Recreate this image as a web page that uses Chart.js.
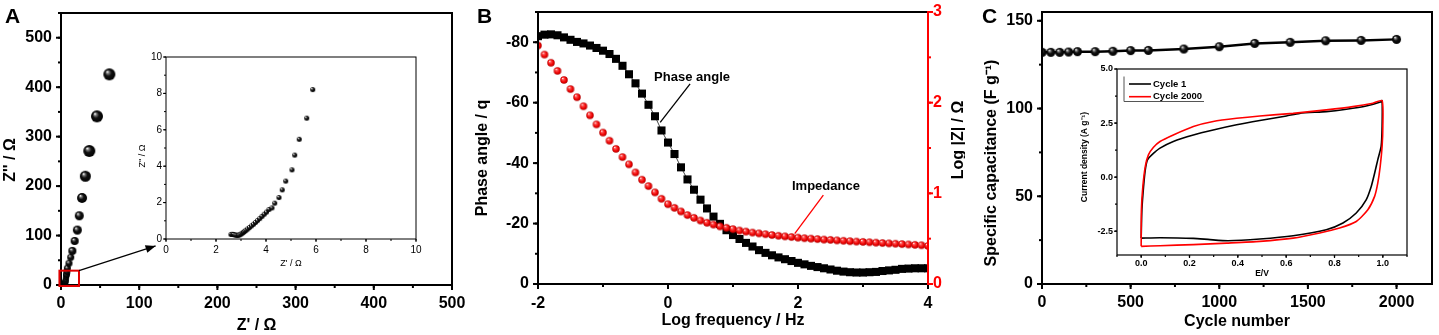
<!DOCTYPE html>
<html>
<head>
<meta charset="utf-8">
<script src="https://cdn.jsdelivr.net/npm/chart.js@4.4.1/dist/chart.umd.min.js"></script>
<style>
body { margin: 0; background: #fff; }
#fig { position: relative; width: 1439px; height: 335px; overflow: hidden; background: #fff;
       font-family: 'Liberation Sans', Arial, sans-serif; }
#fig canvas { position: absolute; }
.tag { position: absolute; font-weight: bold; font-size: 21px; line-height: 21px; }
</style>
</head>
<body>
<div id="fig">
  <canvas id="chartA" width="485" height="335" style="left:0;top:0"></canvas>
  <canvas id="chartAin" width="308" height="233" style="left:132px;top:47px"></canvas>
  <canvas id="chartB" width="500" height="335" style="left:465px;top:0"></canvas>
  <canvas id="chartC" width="479" height="335" style="left:960px;top:0"></canvas>
  <canvas id="chartCin" width="345" height="222" style="left:1075px;top:60px"></canvas>
  <div class="tag" style="left:5px;top:5px">A</div>
  <div class="tag" style="left:477px;top:5px">B</div>
  <div class="tag" style="left:982px;top:5px">C</div>
</div>
<script>
// ---- Panel A: Nyquist plot (Z', Z'') ----
const zReal = [2.60, 2.65, 2.70, 2.75, 2.80, 2.85, 2.90, 2.95, 3.00, 3.05, 3.10, 3.15, 3.20, 3.27, 3.34,
  3.42, 3.50, 3.58, 3.66, 3.75, 3.84, 3.93, 4.02, 4.12, 4.24, 4.35, 4.52, 4.65, 4.79, 5.04, 5.15, 5.33,
  5.63, 5.87, 6.1, 6.5, 7.0, 7.5, 8.1, 10.2, 12.4, 14.5, 17.5, 20.9, 23.4, 26.9, 31.1, 36.2, 46.0, 61.8];
const zImag = [0.25, 0.26, 0.25, 0.23, 0.21, 0.20, 0.21, 0.23, 0.27, 0.32, 0.37, 0.42, 0.48, 0.55, 0.63,
  0.72, 0.81, 0.91, 1.01, 1.12, 1.24, 1.36, 1.48, 1.62, 1.71, 1.97, 2.28, 2.70, 3.18, 3.80, 4.61, 5.48,
  6.64, 8.21, 11.5, 16, 21, 27, 34, 44, 56, 69, 89, 111, 140, 176, 220, 271, 341, 426];
const aTicksX = [0, 100, 200, 300, 400, 500];
const aTicksY = [0, 100, 200, 300, 400, 500];
const aInTicks = [0, 2, 4, 6, 8, 10];

// ---- Panel B: Bode plot ----
const logFreq = [-2.0, -1.9, -1.8, -1.7, -1.6, -1.5, -1.4, -1.3, -1.2, -1.1, -1.0, -0.9, -0.8, -0.7, -0.6,
  -0.5, -0.4, -0.3, -0.2, -0.1, 0.0, 0.1, 0.2, 0.3, 0.4, 0.5, 0.6, 0.7, 0.8, 0.9, 1.0, 1.1, 1.2, 1.3, 1.4,
  1.5, 1.6, 1.7, 1.8, 1.9, 2.0, 2.1, 2.2, 2.3, 2.4, 2.5, 2.6, 2.7, 2.8, 2.9, 3.0, 3.1, 3.2, 3.3, 3.4, 3.5,
  3.6, 3.7, 3.8, 3.9, 4.0];
const phaseAngle = [-82.0, -82.5, -82.6, -82.3, -81.6, -80.8, -80.1, -79.6, -78.9, -78.1, -77.2, -76.1,
  -74.5, -72.2, -69.4, -66.4, -63.0, -59.3, -55.5, -50.8, -46.8, -43.0, -38.6, -34.6, -31.2, -27.9, -25.0,
  -22.3, -19.9, -17.8, -16.2, -14.9, -13.6, -12.4, -11.2, -10.3, -9.5, -8.8, -8.2, -7.6, -7.0, -6.5, -6.0,
  -5.6, -5.2, -4.8, -4.4, -4.1, -3.9, -3.8, -3.8, -3.9, -4.0, -4.3, -4.5, -4.7, -5.0, -5.1, -5.2, -5.2, -5.2];
const logZ = [2.63, 2.53, 2.44, 2.35, 2.25, 2.15, 2.06, 1.96, 1.86, 1.76, 1.67, 1.58, 1.49, 1.40, 1.32,
  1.23, 1.15, 1.08, 1.01, 0.94, 0.88, 0.84, 0.80, 0.76, 0.73, 0.70, 0.675, 0.655, 0.635, 0.62, 0.605, 0.59,
  0.578, 0.567, 0.558, 0.549, 0.54, 0.532, 0.525, 0.518, 0.511, 0.505, 0.50, 0.495, 0.49, 0.486, 0.481,
  0.477, 0.472, 0.468, 0.464, 0.46, 0.456, 0.452, 0.448, 0.444, 0.44, 0.436, 0.432, 0.427, 0.42];
const bTicksX = [-2, 0, 2, 4];
const bTicksY = [0, -20, -40, -60, -80];
const bTicksY2 = [0, 1, 2, 3];

// ---- Panel C: cycling stability ----
const cycles = [1, 50, 100, 150, 200, 300, 400, 500, 600, 800, 1000, 1200, 1400, 1600, 1800, 2000];
const capacitance = [132.0, 132.0, 132.0, 132.2, 132.4, 132.4, 132.6, 133.0, 133.1, 133.9, 135.2,
  137.1, 137.7, 138.6, 138.8, 139.4];
const cTicksX = [0, 500, 1000, 1500, 2000];
const cTicksY = [0, 50, 100, 150];

// ---- Inset C: CV curves ----
const cv1E = [0.000, 0.003, 0.010, 0.017, 0.026, 0.044, 0.078, 0.133, 0.216, 0.298, 0.395, 0.491, 0.601,
  0.656, 0.766, 0.849, 0.931, 0.993, 0.997, 0.997, 0.993, 0.979, 0.966, 0.952, 0.931, 0.890, 0.835, 0.766,
  0.629, 0.491, 0.360, 0.285, 0.216, 0.078, 0.000];
const cv1I = [-2.82, -1.51, -0.43, 0.34, 0.80, 1.03, 1.34, 1.65, 1.95, 2.18, 2.42, 2.62, 2.83, 2.95, 3.03,
  3.14, 3.29, 3.49, 3.54, 2.34, 1.42, 0.80, 0.18, -0.43, -1.05, -1.66, -2.12, -2.43, -2.71, -2.86, -2.94,
  -2.89, -2.83, -2.80, -2.82];
const cv2000E = [0.000, 0.001, 0.007, 0.017, 0.030, 0.051, 0.078, 0.133, 0.216, 0.298, 0.395, 0.491, 0.629,
  0.766, 0.876, 0.959, 0.997, 1.000, 0.997, 0.989, 0.979, 0.966, 0.938, 0.890, 0.821, 0.739, 0.629, 0.491,
  0.354, 0.216, 0.078, 0.000];
const cv2000I = [-3.20, -1.51, -0.43, 0.49, 1.03, 1.38, 1.65, 1.95, 2.34, 2.57, 2.72, 2.83, 2.95, 3.11,
  3.26, 3.42, 3.54, 2.34, 1.42, 0.49, -0.28, -0.89, -1.51, -2.05, -2.35, -2.58, -2.82, -2.97, -3.05, -3.12,
  -3.17, -3.20];
const cInTicksX = [0, 0.2, 0.4, 0.6, 0.8, 1.0];
const cInTicksY = [-2.5, 0, 2.5, 5.0];

Chart.defaults.font.family = "'Liberation Sans', Arial, sans-serif";
Chart.defaults.color = '#000';
Chart.defaults.animation = false;
Chart.defaults.responsive = false;
Chart.defaults.events = [];
Chart.defaults.plugins.legend.display = false;
Chart.defaults.plugins.tooltip.enabled = false;

const pts = (xs, ys) => xs.map((x, i) => ({x: x, y: ys[i]}));

// shaded sphere used as point style
const ballCache = {};
function ball(d, red) {
  const key = d + (red ? 'r' : 'k');
  if (ballCache[key]) return ballCache[key];
  const c = document.createElement('canvas');
  const s = Math.ceil(d) + 2;
  c.width = c.height = s;
  const g = c.getContext('2d');
  const r = d / 2, m = s / 2;
  const grad = g.createRadialGradient(m - r * 0.35, m - r * 0.45, r * 0.05, m, m, r);
  if (red) {
    grad.addColorStop(0, '#fff0f0');
    grad.addColorStop(0.25, '#ff5050');
    grad.addColorStop(0.7, '#ee0000');
    grad.addColorStop(1, '#b00000');
  } else {
    grad.addColorStop(0, '#ffffff');
    grad.addColorStop(0.2, '#777');
    grad.addColorStop(0.5, '#111');
    grad.addColorStop(1, '#000');
  }
  g.fillStyle = grad;
  g.beginPath();
  g.arc(m, m, r, 0, Math.PI * 2);
  g.fill();
  ballCache[key] = c;
  return c;
}

function axis(o) {
  return {
    type: 'linear',
    position: o.pos,
    min: o.min,
    max: o.max,
    reverse: !!o.reverse,
    grid: {display: false, drawTicks: false},
    border: {display: false},
    afterBuildTicks: s => { s.ticks = o.ticks.map(v => ({value: v})); },
    afterFit: s => {
      if (s.isHorizontal()) s.height = o.size; else s.width = o.size;
      s.paddingLeft = s.paddingRight = s.paddingTop = s.paddingBottom = 0;
    },
    ticks: {
      padding: o.pad, color: o.color || '#000', font: o.font, maxRotation: 0, autoSkip: false,
      callback: v => o.dec ? v.toFixed(o.dec) : String(v)
    },
    title: {
      display: !!o.title, text: o.title, color: o.color || '#000',
      font: o.titleFont, padding: o.titlePad || 0
    }
  };
}

// box around the plot with outward major / minor ticks
const framePlugin = {
  id: 'frame',
  afterDatasetsDraw(chart, args, o) {
    if (!o.width) return;
    const {ctx, chartArea: a} = chart;
    ctx.save();
    ctx.lineWidth = o.width;
    Object.values(chart.scales).forEach(s => {
      ctx.strokeStyle = (o.colors && o.colors[s.id]) || '#000';
      const tick = (v, len) => {
        const p = s.getPixelForValue(v);
        ctx.beginPath();
        if (s.position === 'bottom') { ctx.moveTo(p, a.bottom); ctx.lineTo(p, a.bottom + len); }
        else if (s.position === 'left') { ctx.moveTo(a.left, p); ctx.lineTo(a.left - len, p); }
        else { ctx.moveTo(a.right, p); ctx.lineTo(a.right + len, p); }
        ctx.stroke();
      };
      const step = o.minor && o.minor[s.id];
      if (step) {
        for (let k = Math.ceil(s.min / step - 1e-6); k * step <= s.max + 1e-6; k++) tick(k * step, o.minorTick);
      }
      s.ticks.forEach(t => tick(t.value, o.tick));
    });
    ctx.strokeStyle = '#000';
    ctx.strokeRect(a.left, a.top, a.right - a.left, a.bottom - a.top);
    if (o.rightColor) {
      ctx.strokeStyle = o.rightColor;
      ctx.beginPath();
      ctx.moveTo(a.right, a.top - o.width / 2);
      ctx.lineTo(a.right, a.bottom + o.width / 2);
      ctx.stroke();
    }
    ctx.restore();
  }
};

// labels, leader lines, zoom box, rotated side titles and in-plot legend
const notesPlugin = {
  id: 'notes',
  afterDatasetsDraw(chart, args, o) {
    if (!o.items) return;
    const {ctx, chartArea: a} = chart;
    const X = v => chart.scales.x.getPixelForValue(v);
    const Y = (v, id) => chart.scales[id || 'y'].getPixelForValue(v);
    o.items.forEach(it => {
      ctx.save();
      ctx.strokeStyle = ctx.fillStyle = it.color || '#000';
      ctx.lineWidth = it.width || 1;
      if (it.type === 'text') {
        ctx.font = it.font;
        ctx.textAlign = 'center';
        ctx.textBaseline = 'middle';
        ctx.fillText(it.text, X(it.x), Y(it.y, it.axis));
      } else if (it.type === 'line') {
        const x1 = X(it.x1), y1 = Y(it.y1, it.axis), x2 = X(it.x2), y2 = Y(it.y2, it.axis);
        ctx.beginPath();
        ctx.moveTo(x1, y1);
        ctx.lineTo(x2, y2);
        ctx.stroke();
        if (it.arrow) {
          const ang = Math.atan2(y2 - y1, x2 - x1);
          ctx.beginPath();
          ctx.moveTo(x2, y2);
          ctx.lineTo(x2 - 10 * Math.cos(ang) + 4 * Math.sin(ang), y2 - 10 * Math.sin(ang) - 4 * Math.cos(ang));
          ctx.lineTo(x2 - 10 * Math.cos(ang) - 4 * Math.sin(ang), y2 - 10 * Math.sin(ang) + 4 * Math.cos(ang));
          ctx.closePath();
          ctx.fill();
        }
      } else if (it.type === 'box') {
        const x1 = X(it.x1), y1 = Y(it.y1), x2 = X(it.x2), y2 = Y(it.y2);
        ctx.strokeRect(Math.min(x1, x2), Math.min(y1, y2), Math.abs(x2 - x1), Math.abs(y2 - y1));
      } else if (it.type === 'sideTitle') {
        ctx.font = it.font;
        ctx.textAlign = 'center';
        ctx.textBaseline = 'middle';
        const xx = it.side === 'left' ? a.left - it.dx : a.right + it.dx;
        ctx.translate(xx, (a.top + a.bottom) / 2 + it.dy);
        ctx.rotate(-Math.PI / 2);
        ctx.fillText(it.text, 0, 0);
      } else if (it.type === 'legend') {
        const x0 = a.left + it.dx, y0 = a.top + it.dy;
        ctx.strokeStyle = '#555';
        ctx.lineWidth = 1;
        ctx.beginPath();
        ctx.moveTo(x0, y0);
        ctx.lineTo(x0, y0 + it.h);
        ctx.lineTo(x0 + it.w, y0 + it.h);
        ctx.stroke();
        ctx.font = it.font;
        ctx.textBaseline = 'middle';
        ctx.textAlign = 'left';
        it.order.forEach((di, k) => {
          const ds = chart.data.datasets[di];
          const yy = y0 + 7.5 + k * it.gap;
          ctx.strokeStyle = ds.borderColor;
          ctx.lineWidth = ds.borderWidth;
          ctx.beginPath();
          ctx.moveTo(x0 + 5, yy);
          ctx.lineTo(x0 + 27, yy);
          ctx.stroke();
          ctx.fillStyle = '#000';
          ctx.fillText(ds.label, x0 + 29, yy);
        });
      }
      ctx.restore();
    });
  }
};

Chart.register(framePlugin, notesPlugin);

const big = {size: 16, weight: 'bold'};
const bigCss = 'bold 16px "Liberation Sans", Arial';

// ---------- A ----------
new Chart(document.getElementById('chartA'), {
  type: 'scatter',
  data: {
    datasets: [{
      label: 'Nyquist',
      data: pts(zReal, zImag),
      pointStyle: ctx => ball(Math.round(6 + 6 * Math.min(1, ctx.raw.y / 250)), false),
      pointRadius: 6
    }]
  },
  options: {
    layout: {padding: {top: 13, right: 33, left: 0, bottom: 0}},
    scales: {
      x: axis({pos: 'bottom', min: 0, max: 500, ticks: aTicksX, size: 50, pad: 9, font: big,
        title: "Z' / Ω", titleFont: big, titlePad: {bottom: 0}}),
      y: axis({pos: 'left', min: 0, max: 550, ticks: aTicksY, size: 61, pad: 9, font: big})
    },
    plugins: {
      frame: {width: 2, tick: 5, minorTick: 3, minor: {x: 50, y: 50}},
      notes: {items: [
        {type: 'sideTitle', side: 'left', text: "Z'' / Ω", dx: 50, dy: 11, font: bigCss},
        {type: 'box', x1: -2, y1: -2, x2: 23, y2: 29, color: '#e00000', width: 2},
        {type: 'line', x1: 23, y1: 29, x2: 121, y2: 79, arrow: true, width: 1.2}
      ]}
    }
  }
});

// ---------- A inset ----------
const small = {size: 10};
new Chart(document.getElementById('chartAin'), {
  type: 'scatter',
  data: {
    datasets: [{label: 'Nyquist (zoom)', data: pts(zReal, zImag), pointStyle: ball(5, false), pointRadius: 2.5}]
  },
  options: {
    layout: {padding: {top: 10, right: 24, left: 0, bottom: 0}},
    scales: {
      x: axis({pos: 'bottom', min: 0, max: 10, ticks: aInTicks, size: 41, pad: 5, font: small,
        title: "Z' / Ω", titleFont: {size: 9}, titlePad: {bottom: 10.6}}),
      y: axis({pos: 'left', min: 0, max: 10, ticks: aInTicks, size: 34, pad: 4, font: small})
    },
    plugins: {
      frame: {width: 1, tick: 3, minorTick: 2, minor: {x: 1, y: 1}},
      notes: {items: [
        {type: 'sideTitle', side: 'left', text: "Z'' / Ω", dx: 23.5, dy: 8, font: '9px "Liberation Sans", Arial'}
      ]}
    }
  }
});

// ---------- B ----------
new Chart(document.getElementById('chartB'), {
  type: 'scatter',
  data: {
    datasets: [{
      label: 'Impedance',
      data: pts(logFreq, logZ),
      yAxisID: 'y2',
      pointStyle: ball(7.5, true),
      pointRadius: 3.75,
      order: 0
    }, {
      label: 'Phase angle',
      data: pts(logFreq, phaseAngle),
      yAxisID: 'y',
      showLine: true,
      borderColor: '#444',
      borderWidth: 1,
      pointStyle: 'rect',
      pointRadius: 5.7,
      pointBackgroundColor: '#000',
      pointBorderWidth: 0,
      order: 1
    }]
  },
  options: {
    layout: {padding: {top: 12, right: 0, left: 0, bottom: 0}},
    scales: {
      x: axis({pos: 'bottom', min: -2, max: 4, ticks: bTicksX, size: 51, pad: 9.5, font: big,
        title: 'Log frequency / Hz', titleFont: big, titlePad: {bottom: 5}}),
      y: axis({pos: 'left', min: -90, max: 0, reverse: true, ticks: bTicksY, size: 73, pad: 9, font: big}),
      y2: axis({pos: 'right', min: 0, max: 3, ticks: bTicksY2, size: 37, pad: 5, font: big, color: '#f00'})
    },
    plugins: {
      frame: {width: 2, tick: 5, minorTick: 3, minor: {x: 1, y: 10, y2: 0.5}, colors: {y2: '#f00'}, rightColor: '#f00'},
      notes: {items: [
        {type: 'sideTitle', side: 'left', text: 'Phase angle / q', dx: 55, dy: 10, font: bigCss},
        {type: 'text', text: 'Phase angle', x: 0.37, y: -68.4, font: 'bold 13px "Liberation Sans", Arial'},
        {type: 'line', x1: 0.34, y1: -66.2, x2: -0.12, y2: -53.5, width: 1.3},
        {type: 'text', text: 'Impedance', x: 2.43, y: 1.08, axis: 'y2', font: 'bold 13px "Liberation Sans", Arial'},
        {type: 'line', x1: 2.39, y1: 0.98, x2: 1.95, y2: 0.556, axis: 'y2', color: '#f00', width: 1.3},
        {type: 'sideTitle', side: 'right', text: 'Log |Z| / Ω', dx: 31, dy: -8, font: bigCss}
      ]}
    }
  }
});

// ---------- C ----------
new Chart(document.getElementById('chartC'), {
  type: 'scatter',
  data: {
    datasets: [{
      label: 'Specific capacitance',
      data: pts(cycles, capacitance),
      showLine: true,
      borderColor: '#000',
      borderWidth: 2.5,
      pointStyle: ball(9, false),
      pointRadius: 4.5
    }]
  },
  options: {
    layout: {padding: {top: 12, right: 6, left: 0, bottom: 0}},
    scales: {
      x: axis({pos: 'bottom', min: 0, max: 2200, ticks: cTicksX, size: 51, pad: 9, font: big,
        title: 'Cycle number', titleFont: big, titlePad: {bottom: 3.4}}),
      y: axis({pos: 'left', min: 0, max: 155, ticks: cTicksY, size: 82, pad: 9, font: big})
    },
    plugins: {
      frame: {width: 2, tick: 5, minorTick: 3, minor: {x: 250, y: 25}},
      notes: {items: [
        {type: 'sideTitle', side: 'left', text: 'Specific capacitance (F g⁻¹)', dx: 50.5, dy: 15, font: bigCss}
      ]}
    }
  }
});

// ---------- C inset ----------
const tiny = {size: 9, weight: 'bold'};
new Chart(document.getElementById('chartCin'), {
  type: 'scatter',
  data: {
    datasets: [{
      label: 'Cycle 1',
      data: pts(cv1E, cv1I),
      showLine: true,
      borderColor: '#000',
      borderWidth: 1.6,
      tension: 0.2,
      pointRadius: 0,
      order: 1
    }, {
      label: 'Cycle 2000',
      data: pts(cv2000E, cv2000I),
      showLine: true,
      borderColor: '#f00',
      borderWidth: 1.6,
      tension: 0.2,
      pointRadius: 0,
      order: 0
    }]
  },
  options: {
    layout: {padding: {top: 9, right: 13, left: 0, bottom: 0}},
    scales: {
      x: axis({pos: 'bottom', min: -0.1, max: 1.1, ticks: cInTicksX, size: 27, pad: 3, font: tiny, dec: 1,
        title: 'E/V', titleFont: {size: 8.5, weight: 'bold'}, titlePad: {bottom: 3.4}}),
      y: axis({pos: 'left', min: -3.6, max: 5.0, ticks: cInTicksY, size: 42, pad: 4, font: tiny, dec: 1})
    },
    plugins: {
      frame: {width: 1.2, tick: 3, minorTick: 2, minor: {x: 0.1, y: 1.25}},
      notes: {items: [
        {type: 'sideTitle', side: 'left', text: 'Current density (A g⁻¹)', dx: 32, dy: -5,
         font: 'bold 8.5px "Liberation Sans", Arial'},
        {type: 'legend', dx: 7, dy: 7.5, w: 80, h: 25, gap: 12.7, order: [0, 1],
         font: 'bold 9.5px "Liberation Sans", Arial'}
      ]}
    }
  }
});
</script>
</body>
</html>
